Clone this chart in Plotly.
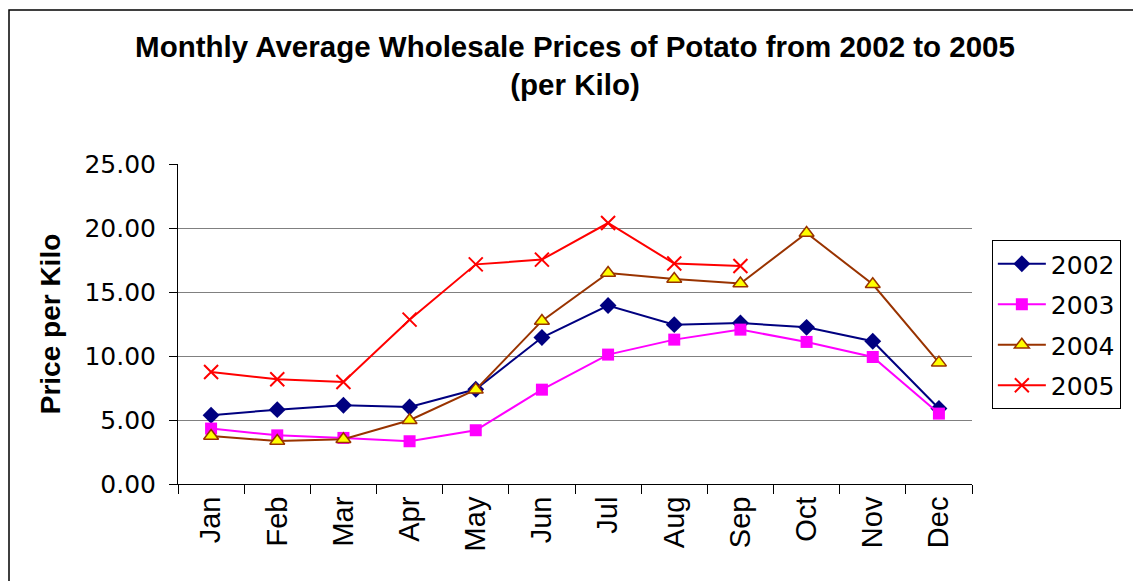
import plotly.graph_objects as go

months = ["Jan", "Feb", "Mar", "Apr", "May", "Jun", "Jul", "Aug", "Sep", "Oct", "Nov", "Dec"]
prices_2002 = [5.37, 5.81, 6.15, 6.02, 7.40, 11.44, 13.94, 12.45, 12.58, 12.24, 11.15, 5.90]
prices_2003 = [4.33, 3.80, 3.60, 3.34, 4.20, 7.37, 10.11, 11.28, 12.06, 11.10, 9.92, 5.50]
prices_2004 = [3.75, 3.36, 3.50, 4.98, 7.37, 12.74, 16.49, 16.02, 15.66, 19.61, 15.60, 9.48]
prices_2005 = [8.75, 8.18, 7.97, 12.84, 17.16, 17.53, 20.39, 17.22, 17.03, None, None, None]
y_ticks = [0, 5, 10, 15, 20, 25]
y_tick_labels = ["0.00", "5.00", "10.00", "15.00", "20.00", "25.00"]

FONT = "Liberation Sans, Arial, sans-serif"
WIDE = "DejaVu Sans, sans-serif"

fig = go.Figure()
fig.add_trace(go.Scatter(
    x=months, y=prices_2002, name="2002", mode="lines+markers", legendgroup="a",
    line=dict(color="#000080", width=2),
    marker=dict(symbol="diamond", size=13, color="#000080")))
fig.add_trace(go.Scatter(
    x=months, y=prices_2003, name="2003", mode="lines+markers", legendgroup="b",
    line=dict(color="#FF00FF", width=2),
    marker=dict(symbol="square", size=12, color="#FF00FF")))
fig.add_trace(go.Scatter(
    x=months, y=prices_2004, name="2004", mode="lines+markers", legendgroup="c",
    line=dict(color="#993300", width=2),
    marker=dict(symbol="triangle-up", size=13, color="#FFFF00",
                line=dict(color="#993300", width=1.5))))
fig.add_trace(go.Scatter(
    x=months, y=prices_2005, name="2005", mode="lines+markers", legendgroup="d",
    line=dict(color="#FF0000", width=2),
    marker=dict(symbol="x-thin-open", size=14, color="#FF0000",
                line=dict(color="#FF0000", width=2))))

fig.update_layout(
    width=1133, height=581,
    margin=dict(l=178, r=161, t=164, b=97, autoexpand=False),
    paper_bgcolor="white", plot_bgcolor="white",
    font=dict(family=FONT, color="black"),
    title=dict(
        text="<b>Monthly Average Wholesale Prices of Potato from 2002 to 2005<br>(per Kilo)</b>",
        x=0.5, xref="paper", xanchor="center", y=0.902, yanchor="top",
        font=dict(family=FONT, size=29.5, color="black")),
    legend=dict(
        x=1.025, y=0.7625, xanchor="left", yanchor="top",
        bordercolor="black", borderwidth=1,
        font=dict(family=WIDE, size=25, color="black"),
        tracegroupgap=5, itemwidth=48),
    showlegend=True,
)

fig.update_xaxes(
    type="category", range=[-0.5, 11.5], showgrid=False, showline=True,
    linecolor="black", linewidth=1,
    ticks="outside", tickson="boundaries", ticklen=9, tickcolor="black",
    tickangle=-90, tickfont=dict(family=FONT, size=29, color="black"),
    mirror=False, zeroline=False)

fig.update_yaxes(
    range=[0, 25], tickvals=y_ticks, ticktext=y_tick_labels,
    showgrid=True, gridcolor="#808080", gridwidth=1.2,
    showline=True, linecolor="black", linewidth=1,
    ticks="outside", ticklen=8, tickcolor="black", ticklabelstandoff=8,
    tickfont=dict(family=WIDE, size=25, color="black"),
    zeroline=False,
    title=dict(text="<b>Price per Kilo</b>", font=dict(family=FONT, size=28, color="black"), standoff=15))

# outer chart border (visible on left and top)
fig.add_shape(type="rect", xref="paper", yref="paper",
              x0=(9 - 178) / 794, x1=1.3, y0=-0.5, y1=(484 - 10) / 320,
              line=dict(color="black", width=1.5), fillcolor="rgba(0,0,0,0)", layer="below")

fig.write_html("out.html", config={"displayModeBar": False},
               post_script="document.body.style.margin='0';")
